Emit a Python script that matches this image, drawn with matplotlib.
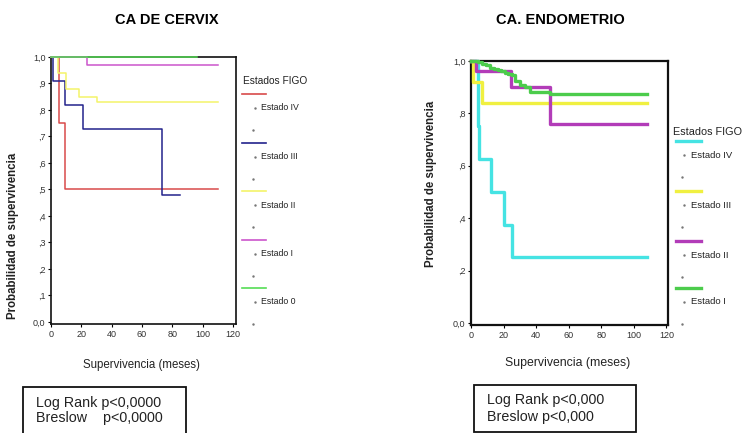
import matplotlib
matplotlib.use('Agg')
import matplotlib.pyplot as plt
from matplotlib.patches import Rectangle
from matplotlib.lines import Line2D

plt.rcParams['font.family'] = ['Liberation Sans', 'DejaVu Sans']

# ---------------- data ----------------
cervix_title = 'CA DE CERVIX'
cervix_labels = ['Estado IV', 'Estado III', 'Estado II', 'Estado I', 'Estado 0']
cervix_times = [[0, 5, 9, 110],
                [0, 1, 9, 21, 73, 85],
                [0, 4.5, 10, 18.5, 30.5, 110],
                [0, 24, 110],
                [0, 96]]
cervix_surv = [[1.0, 0.75, 0.50, 0.50],
               [1.0, 0.91, 0.82, 0.73, 0.48, 0.48],
               [1.0, 0.94, 0.88, 0.85, 0.83, 0.83],
               [1.0, 0.97, 0.97],
               [1.0, 1.0]]
cervix_stats = ['Log Rank p<0,0000', 'Breslow    p<0,0000']

endo_title = 'CA. ENDOMETRIO'
endo_labels = ['Estado IV', 'Estado III', 'Estado II', 'Estado I']
endo_times = [[0, 4, 4.5, 5, 12, 20.5, 25, 108],
              [0, 1, 6.5, 108],
              [0, 3, 24.5, 48.5, 108],
              [0, 4.5, 7, 9, 11.5, 14, 16.5, 18.5, 21, 23, 25, 27, 30, 33, 36, 48.5, 108]]
endo_surv = [[1.0, 0.875, 0.75, 0.625, 0.50, 0.375, 0.25, 0.25],
             [1.0, 0.92, 0.84, 0.84],
             [1.0, 0.96, 0.90, 0.76, 0.76],
             [1.0, 0.995, 0.99, 0.985, 0.975, 0.97, 0.965, 0.96, 0.955, 0.95, 0.945,
              0.925, 0.91, 0.90, 0.882, 0.874, 0.874]]
endo_stats = ['Log Rank p<0,000', 'Breslow p<0,000']

legend_title = 'Estados FIGO'
x_label = 'Supervivencia (meses)'
y_label = 'Probabilidad de supervivencia'
x_ticks = [0, 20, 40, 60, 80, 100, 120]
cervix_yticks = [0.0, 0.1, 0.2, 0.3, 0.4, 0.5, 0.6, 0.7, 0.8, 0.9, 1.0]
cervix_yticklabels = ['0,0', ',1', ',2', ',3', ',4', ',5', ',6', ',7', ',8', ',9', '1,0']
endo_yticks = [0.0, 0.2, 0.4, 0.6, 0.8, 1.0]
endo_yticklabels = ['0,0', ',2', ',4', ',6', ',8', '1,0']

# ---------------- style ----------------
cervix_colors = ['#d84a4a', '#23238c', '#f4f46a', '#cc55cc', '#55dd55']
endo_colors = ['#45e3e3', '#f0f040', '#b23cb8', '#4ccc4c']

W, H = 747, 433
fig = plt.figure(figsize=(W / 100, H / 100), dpi=100)


def fx(px):
    return px / W


def fy(py):
    return 1 - py / H


def make_axes(l, t, r, b):
    return fig.add_axes([fx(l), fy(b), fx(r) - fx(l), fy(t) - fy(b)])


def style_axes(ax, xlim, yticks, yticklabels, lw):
    ax.set_xlim(*xlim)
    ax.set_ylim(-0.008, 1.0)
    ax.set_xticks(x_ticks)
    ax.set_xticklabels([str(v) for v in x_ticks])
    ax.set_yticks(yticks)
    ax.set_yticklabels(yticklabels)
    for s in ax.spines.values():
        s.set_linewidth(lw)
        s.set_color('#111111')
    ax.tick_params(direction='out', length=2.5, width=0.8, pad=1.5,
                   labelsize=6.5, labelcolor='#333333', top=False, right=False)


# left panel
axL = make_axes(51, 57, 236, 324)
for t, s, c in zip(cervix_times, cervix_surv, cervix_colors):
    axL.step(t, s, where='post', color=c, lw=1.1, clip_on=False, zorder=3)
style_axes(axL, (0, 122), cervix_yticks, cervix_yticklabels, 1.2)

# right panel
axR = make_axes(471, 61, 668, 325)
for t, s, c in zip(endo_times, endo_surv, endo_colors):
    axR.step(t, s, where='post', color=c, lw=2.4, clip_on=False, zorder=3)
style_axes(axR, (1, 121), endo_yticks, endo_yticklabels, 1.6)

# titles
fig.text(fx(167), fy(20), cervix_title, ha='center', va='center',
         fontsize=10.5, fontweight='bold')
fig.text(fx(560), fy(20), endo_title, ha='center', va='center',
         fontsize=10.5, fontweight='bold')

# axis labels
fig.text(fx(13), fy(236), y_label, rotation=90, ha='center', va='center',
         fontsize=8.3, fontweight='bold', color='#222222')
fig.text(fx(431), fy(184), y_label, rotation=90, ha='center', va='center',
         fontsize=8.3, fontweight='bold', color='#222222')
fig.text(fx(141), fy(365), x_label, ha='center', va='center', fontsize=8.3, color='#222222')
fig.text(fx(568), fy(363), x_label, ha='center', va='center', fontsize=8.8, color='#222222')


# legends
def draw_legend(title, tx, ty, tsize, labels, colors, y0s, x0, x1, lab_x, dot_x, lw, lsize):
    fig.text(fx(tx), fy(ty), title, ha='left', va='center', fontsize=tsize, color='#222222')
    for lab, c, y0 in zip(labels, colors, y0s):
        fig.add_artist(Line2D([fx(x0), fx(x1)], [fy(y0), fy(y0)], color=c, lw=lw,
                              transform=fig.transFigure))
        fig.text(fx(lab_x), fy(y0 + 14), lab, ha='left', va='center',
                 fontsize=lsize, color='#222222')
        fig.add_artist(Line2D([fx(dot_x)], [fy(y0 + 14)], marker='.', ms=1.5,
                              color='#777777', transform=fig.transFigure))
        fig.add_artist(Line2D([fx(dot_x - 2)], [fy(y0 + 36)], marker='.', ms=1.5,
                              color='#777777', transform=fig.transFigure))


draw_legend(legend_title, 243, 81, 7.3, cervix_labels, cervix_colors,
            [94, 142.5, 191, 239.5, 288], 242, 266, 261, 255, 1.2, 6.3)
draw_legend(legend_title, 673, 132, 7.8, endo_labels, endo_colors,
            [141, 191, 241, 288], 676, 701, 691, 684, 2.4, 6.8)

# statistics boxes
fig.add_artist(Rectangle((fx(23), fy(445)), fx(186) - fx(23), fy(387) - fy(445),
                         fill=False, lw=1.3, ec='#111111', transform=fig.transFigure))
fig.text(fx(36), fy(403), cervix_stats[0], ha='left', va='center', fontsize=10.3, color='#222222')
fig.text(fx(36), fy(418), cervix_stats[1], ha='left', va='center', fontsize=10.3, color='#222222')

fig.add_artist(Rectangle((fx(474), fy(432)), fx(636) - fx(474), fy(385) - fy(432),
                         fill=False, lw=1.3, ec='#111111', transform=fig.transFigure))
fig.text(fx(487), fy(400), endo_stats[0], ha='left', va='center', fontsize=10.3, color='#222222')
fig.text(fx(487), fy(417), endo_stats[1], ha='left', va='center', fontsize=10.3, color='#222222')

fig.savefig('out.png', dpi=100)
